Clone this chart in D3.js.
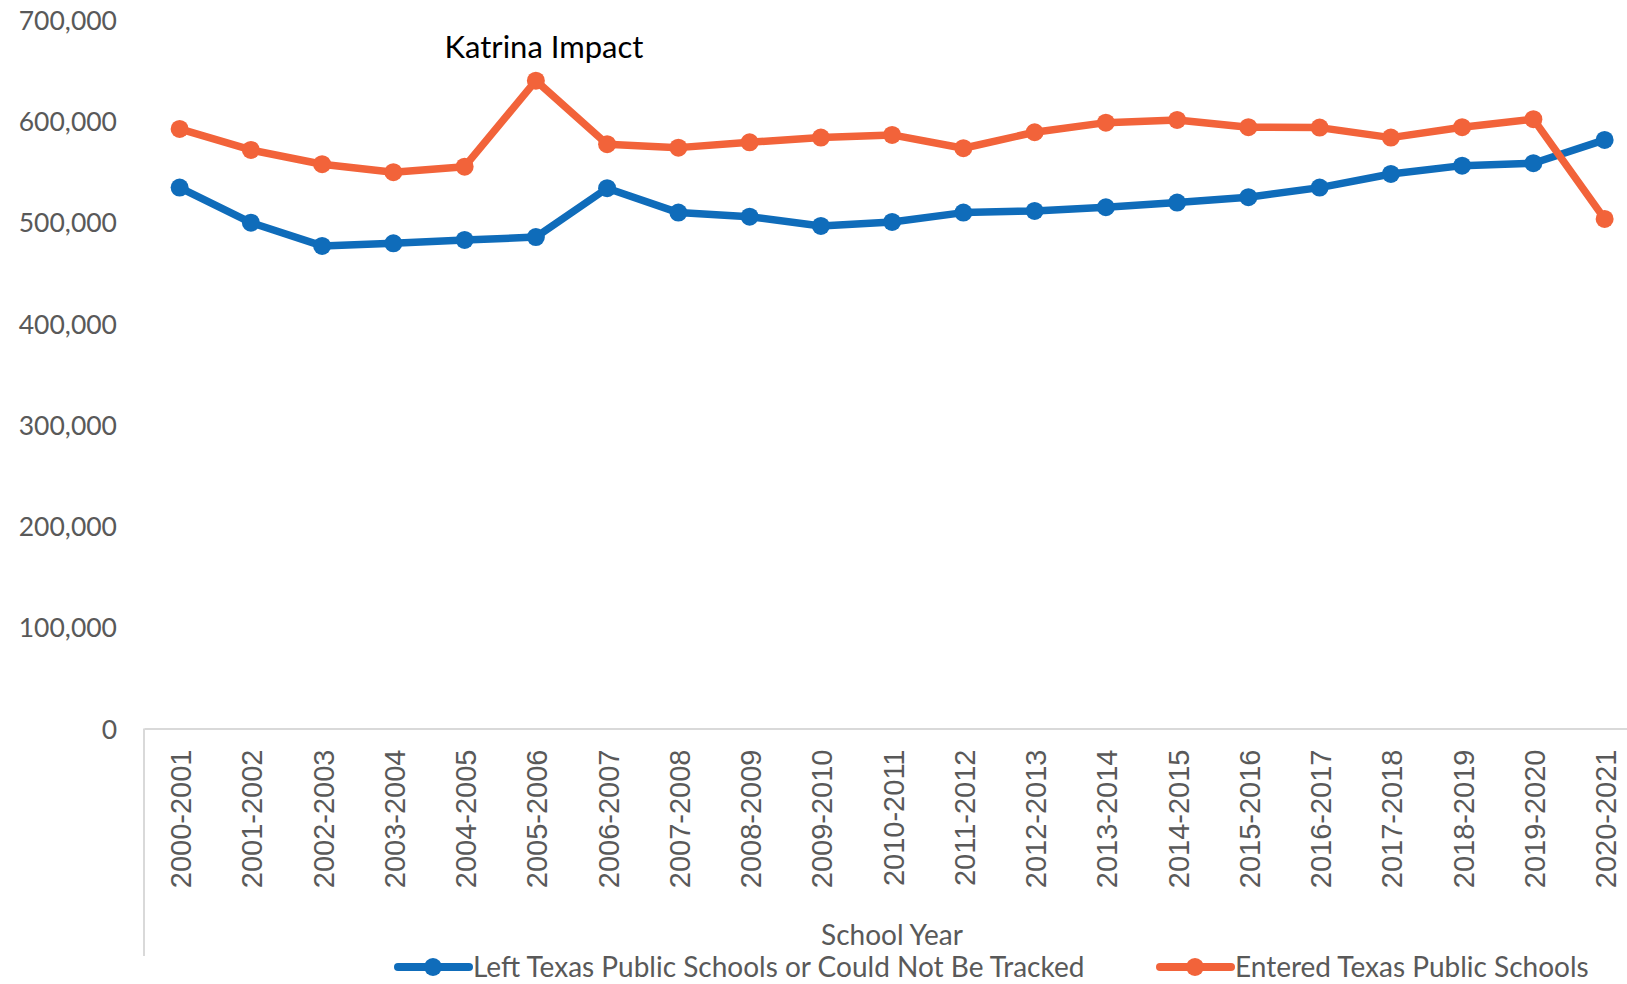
<!DOCTYPE html>
<html>
<head>
<meta charset="utf-8">
<script src="https://cdn.jsdelivr.net/npm/d3@7"></script>
<style>
  body { margin: 0; background: #fff; }
  svg { display: block; }
</style>
</head>
<body>
<div id="chart"></div>
<script>
// Années scolaires (axe X)
const schoolYears = [
    '2000-2001', '2001-2002', '2002-2003', '2003-2004', '2004-2005', '2005-2006',
    '2006-2007', '2007-2008', '2008-2009', '2009-2010', '2010-2011', '2011-2012',
    '2012-2013', '2013-2014', '2014-2015', '2015-2016', '2016-2017', '2017-2018',
    '2018-2019', '2019-2020', '2020-2021'
];

// Élèves sortis (ou non suivis)
const leftValues = [
    534400, 499800, 476800, 479400, 482700, 485500, 533800, 509700, 505700, 496500,
    500500, 509700, 511400, 515000, 519600, 524900, 534400, 547900, 556100, 558500, 581500
];

// Élèves entrés
const enteredValues = [
    592400, 571600, 557500, 549600, 555100, 640100, 577300, 573900, 579200, 583800,
    586500, 573300, 589100, 598600, 601300, 594100, 593700, 583800, 594100, 602000, 503500
];

const yTicks = [0, 100000, 200000, 300000, 400000, 500000, 600000, 700000];

const seriesList = [
    { name: 'Left Texas Public Schools or Could Not Be Tracked', values: leftValues, color: '#0F6CBA' },
    { name: 'Entered Texas Public Schools', values: enteredValues, color: '#F2633A' }
];

const width = 1627;
const height = 984;
const calibri = 'Lato, "Open Sans", sans-serif';
const textGrey = '#595959';

const svg = d3.select('#chart').append('svg')
    .attr('width', width)
    .attr('height', height);

// Échelles
const xScale = d3.scaleBand()
    .domain(schoolYears)
    .range([144, 144 + schoolYears.length * 71.25])
    .padding(0);

const xPos = d => xScale(d) + xScale.bandwidth() / 2;

const yScale = d3.scaleLinear()
    .domain([0, 700000])
    .range([728.5, 20]);

// Axe Y (labels seulement)
const yAxis = svg.append('g')
    .attr('transform', 'translate(117,0)')
    .call(d3.axisLeft(yScale).tickValues(yTicks).tickFormat(d3.format(',')).tickSize(0).tickPadding(0));
yAxis.select('.domain').remove();
yAxis.selectAll('text')
    .style('font-family', calibri)
    .style('font-size', '26.5px')
    .style('fill', textGrey)
    .attr('dy', '0.36em');

// Axe X
const xAxis = svg.append('g')
    .attr('transform', `translate(0,${yScale(0)})`)
    .call(d3.axisBottom(xScale).tickSize(0).tickSizeOuter(0));
xAxis.select('.domain')
    .attr('stroke', '#d9d9d9')
    .attr('stroke-width', 2);
xAxis.selectAll('text')
    .attr('transform', 'rotate(-90)')
    .attr('text-anchor', 'end')
    .attr('x', -21)
    .attr('y', 0)
    .attr('dy', '0.4em')
    .style('font-family', '"Liberation Sans", Arial, sans-serif')
    .style('font-size', '29px')
    .style('fill', textGrey);

// Trait vertical à gauche de la zone des catégories
svg.append('line')
    .attr('x1', xScale.range()[0])
    .attr('x2', xScale.range()[0])
    .attr('y1', yScale(0))
    .attr('y2', 956)
    .attr('stroke', '#d9d9d9')
    .attr('stroke-width', 2);

// Titre de l'axe X
svg.append('text')
    .attr('x', 892)
    .attr('y', 935)
    .attr('dy', '0.35em')
    .attr('text-anchor', 'middle')
    .style('font-family', calibri)
    .style('font-size', '28px')
    .style('fill', textGrey)
    .text('School Year');

// Lignes + marqueurs
const line = d3.line()
    .x((d, i) => xPos(schoolYears[i]))
    .y(d => yScale(d));

seriesList.forEach(s => {
    svg.append('path')
        .datum(s.values)
        .attr('fill', 'none')
        .attr('stroke', s.color)
        .attr('stroke-width', 7.5)
        .attr('stroke-linejoin', 'round')
        .attr('d', line);

    svg.selectAll(null)
        .data(s.values)
        .join('circle')
        .attr('cx', (d, i) => xPos(schoolYears[i]))
        .attr('cy', d => yScale(d))
        .attr('r', 9)
        .attr('fill', s.color);
});

// Annotation Katrina
svg.append('text')
    .attr('x', 544)
    .attr('y', 47)
    .attr('dy', '0.35em')
    .attr('text-anchor', 'middle')
    .style('font-family', calibri)
    .style('font-size', '31px')
    .style('fill', '#000')
    .text('Katrina Impact');

// Légende
const legendItems = [
    { x: 398, series: seriesList[0] },
    { x: 1160, series: seriesList[1] }
];
const legendY = 967;

legendItems.forEach(item => {
    const g = svg.append('g').attr('transform', `translate(${item.x},${legendY})`);
    g.append('line')
        .attr('x1', 0).attr('x2', 71)
        .attr('y1', 0).attr('y2', 0)
        .attr('stroke', item.series.color)
        .attr('stroke-width', 8)
        .attr('stroke-linecap', 'round');
    g.append('circle')
        .attr('cx', 35)
        .attr('cy', 0)
        .attr('r', 9)
        .attr('fill', item.series.color);
    g.append('text')
        .attr('x', 75)
        .attr('y', 0)
        .attr('dy', '0.35em')
        .style('font-family', calibri)
        .style('font-size', '28px')
        .style('fill', textGrey)
        .text(item.series.name);
});
</script>
</body>
</html>
